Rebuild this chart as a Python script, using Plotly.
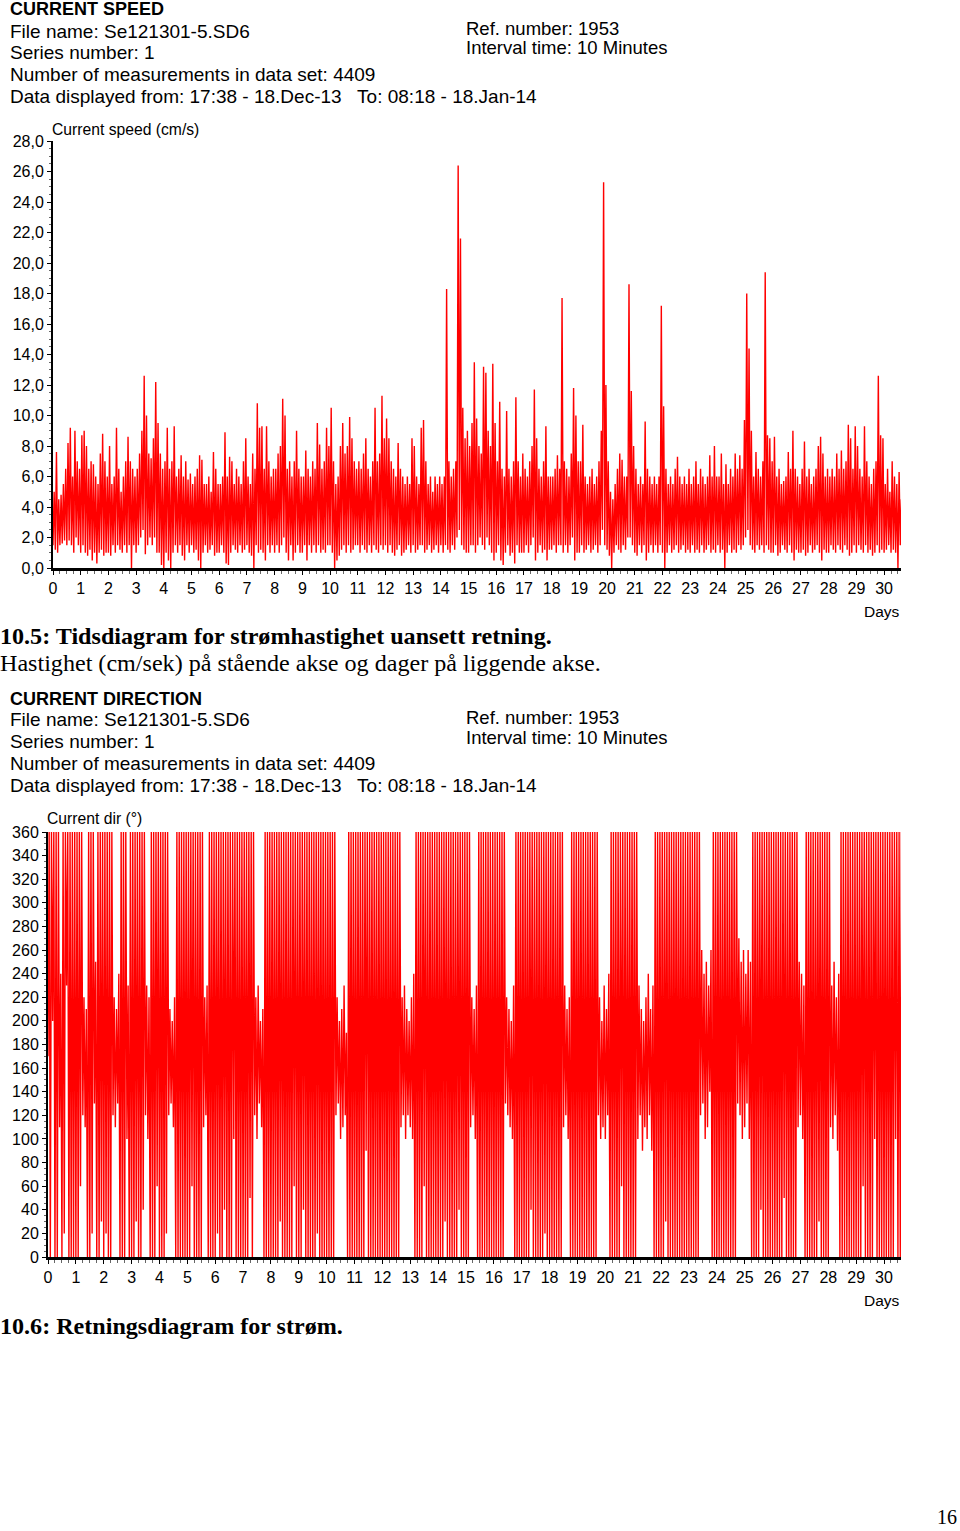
import plotly.graph_objects as go

W, H = 960, 1531

# ---------------- data ----------------
# per 2-hour bin: upper and lower extent of the trace (one row per day)
bin_hours = 2
speed_high = [
    5.0, 7.6, 4.5, 4.8, 5.5, 6.5, 8.2, 9.2, 6.0, 9.0, 7.0, 6.5,
    8.7, 9.0, 8.0, 6.5, 7.0, 6.8, 6.0, 5.5, 7.5, 8.8, 7.0, 6.0,
    8.0, 5.5, 6.0, 9.2, 6.5, 5.0, 6.0, 7.0, 8.6, 7.0, 6.5, 6.0,
    6.5, 7.5, 9.0, 12.6, 10.0, 7.5, 7.2, 8.5, 12.2, 9.5, 7.5, 6.5,
    7.0, 9.2, 6.5, 7.0, 9.3, 6.0, 6.5, 7.4, 6.0, 7.0, 5.8, 6.2,
    5.5, 6.0, 6.5, 7.4, 7.1, 5.5, 5.5, 6.0, 5.0, 7.6, 6.5, 5.5,
    5.5, 6.0, 8.9, 6.0, 7.3, 7.0, 5.5, 6.5, 6.0, 5.5, 7.0, 8.5,
    6.0, 5.5, 7.5, 6.5, 10.8, 9.2, 9.3, 6.5, 9.3, 7.0, 6.0, 6.5,
    6.5, 7.5, 8.0, 11.1, 10.0, 6.5, 7.0, 6.0, 7.0, 9.0, 6.5, 6.0,
    6.0, 7.7, 6.5, 6.0, 7.0, 6.5, 9.5, 8.1, 6.5, 7.0, 9.2, 8.0,
    10.5, 7.0, 5.5, 6.0, 8.0, 9.5, 7.5, 8.0, 9.9, 8.5, 7.0, 6.5,
    7.0, 6.5, 7.5, 8.5, 6.5, 6.0, 7.0, 10.5, 7.0, 7.5, 11.3, 8.5,
    9.8, 8.5, 7.0, 6.5, 6.0, 8.2, 6.5, 6.0, 5.5, 6.0, 5.5, 8.5,
    8.0, 6.0, 5.5, 9.2, 9.7, 7.0, 5.5, 6.0, 5.0, 6.0, 5.5, 6.0,
    5.5, 6.0, 18.3, 7.0, 6.0, 6.5, 7.0, 26.4, 21.6, 10.5, 8.5, 9.0,
    8.0, 9.5, 13.5, 9.8, 8.0, 7.5, 13.2, 12.8, 9.0, 8.0, 13.4, 9.5,
    7.0, 10.9, 6.5, 6.0, 10.3, 6.5, 6.0, 7.0, 11.2, 7.0, 6.0, 7.5,
    6.5, 6.0, 7.0, 8.0, 11.7, 8.5, 6.5, 6.0, 7.0, 9.3, 6.0, 6.0,
    6.0, 6.5, 7.4, 6.5, 17.7, 7.0, 6.5, 6.0, 7.5, 11.8, 10.0, 7.0,
    7.0, 9.4, 6.0, 5.5, 6.0, 6.5, 5.5, 6.0, 7.0, 9.0, 25.3, 12.0,
    7.0, 5.0, 4.5, 5.5, 6.5, 7.5, 7.1, 6.0, 6.0, 18.6, 11.6, 8.0,
    6.5, 5.5, 6.0, 5.5, 9.6, 6.5, 6.0, 5.5, 6.0, 5.5, 6.0, 17.2,
    10.6, 6.5, 5.5, 6.0, 5.5, 6.5, 7.3, 6.0, 5.5, 6.0, 5.5, 6.5,
    5.5, 6.0, 7.0, 5.5, 6.5, 6.0, 5.5, 6.0, 7.4, 6.0, 8.0, 6.0,
    6.0, 7.5, 5.5, 6.8, 5.5, 6.5, 6.0, 7.5, 6.5, 7.4, 6.5, 9.7,
    18.0, 14.4, 9.0, 6.0, 7.6, 6.5, 6.0, 7.0, 19.4, 8.7, 8.5, 7.0,
    8.6, 6.0, 6.5, 5.5, 5.7, 6.0, 7.6, 6.5, 9.0, 6.5, 6.0, 5.5,
    6.5, 8.3, 6.0, 6.5, 5.5, 6.0, 6.5, 8.0, 8.6, 7.5, 6.0, 6.5,
    6.0, 6.5, 6.0, 7.5, 6.5, 7.7, 6.5, 7.0, 9.4, 8.5, 6.5, 9.3,
    8.0, 6.5, 6.0, 9.3, 7.0, 6.0, 5.5, 6.5, 7.0, 12.6, 8.7, 8.5,
    5.5, 6.5, 5.0, 7.0, 6.0, 5.5, 6.3, 4.5,
]
speed_low = [
    1.5, 1.2, 1.0, 1.5, 1.6, 1.8, 1.5, 1.8, 1.5, 1.0, 2.0, 1.5,
    1.0, 1.5, 1.0, 0.8, 1.2, 0.5, 1.0, 0.3, 1.0, 1.2, 0.8, 1.0,
    1.0, 0.8, 1.5, 1.0, 1.5, 1.2, 1.0, 1.5, 1.0, 1.5, 0.0, 1.5,
    1.0, 1.5, 2.0, 2.5, 0.9, 1.5, 2.0, 1.5, 2.0, 1.0, 1.0, 0.2,
    0.0, 1.0, 0.5, 0.0, 1.0, 1.5, 1.0, 1.5, 0.8, 0.5, 1.5, 1.0,
    1.5, 1.0, 1.2, 0.5, 0.0, 1.0, 1.5, 1.0, 1.2, 1.5, 0.8, 1.0,
    1.0, 1.5, 1.0, 0.3, 0.2, 1.0, 1.5, 1.2, 1.0, 1.5, 1.0, 1.2,
    1.5, 1.0, 0.8, 0.0, 1.5, 1.0, 1.2, 1.0, 0.5, 1.5, 1.0, 1.5,
    1.0, 1.5, 1.0, 1.5, 2.0, 1.0, 0.5, 1.5, 0.5, 1.0, 1.5, 1.0,
    1.0, 1.5, 0.5, 1.5, 1.0, 1.5, 1.0, 1.5, 1.0, 1.2, 1.0, 1.5,
    1.5, 1.0, 0.0, 0.5, 0.8, 1.2, 1.5, 1.0, 1.5, 1.0, 1.2, 1.5,
    1.5, 1.0, 1.5, 1.2, 1.0, 1.5, 1.0, 1.5, 1.2, 1.0, 1.5, 1.2,
    1.5, 1.0, 1.5, 1.0, 0.8, 1.2, 1.5, 0.8, 1.0, 1.2, 1.5, 1.0,
    1.5, 1.0, 1.2, 1.5, 1.5, 1.0, 1.2, 1.5, 1.0, 1.2, 1.5, 1.0,
    1.5, 1.0, 1.5, 1.2, 1.0, 1.5, 1.2, 2.0, 2.5, 1.5, 1.2, 1.0,
    1.0, 1.5, 1.5, 1.0, 1.5, 2.0, 1.5, 1.2, 2.0, 1.5, 1.0, 0.5,
    1.0, 1.5, 0.5, 0.2, 1.0, 1.5, 0.8, 1.0, 0.3, 1.5, 1.0, 1.0,
    1.0, 1.5, 1.0, 1.5, 2.0, 0.5, 1.0, 1.5, 1.0, 1.2, 0.5, 1.2,
    1.2, 1.5, 1.0, 1.5, 1.5, 1.0, 1.5, 1.0, 1.5, 2.0, 0.5, 1.0,
    1.0, 1.5, 1.0, 1.2, 1.5, 1.0, 1.2, 1.5, 1.0, 1.5, 2.5, 1.5,
    1.2, 0.8, 0.0, 1.0, 1.5, 1.2, 1.0, 1.5, 1.2, 2.0, 2.0, 1.5,
    1.0, 0.8, 1.5, 1.0, 1.5, 0.5, 1.0, 1.5, 1.0, 1.5, 1.0, 1.5,
    1.0, 0.0, 1.0, 1.5, 1.0, 1.2, 1.5, 1.0, 1.2, 1.5, 1.0, 1.2,
    1.0, 1.5, 1.0, 1.2, 1.0, 1.5, 1.0, 1.2, 1.5, 1.0, 1.2, 1.0,
    1.5, 1.0, 1.2, 0.0, 1.0, 1.5, 1.0, 1.2, 1.0, 1.5, 1.2, 1.5,
    2.0, 2.5, 1.5, 1.2, 1.0, 1.5, 1.2, 1.5, 1.0, 1.5, 1.2, 1.0,
    1.0, 1.5, 0.8, 1.0, 1.5, 1.2, 1.0, 1.5, 1.0, 0.5, 1.2, 1.0,
    1.0, 1.2, 0.8, 1.0, 1.5, 1.0, 1.2, 1.5, 1.0, 0.5, 1.2, 1.0,
    1.0, 1.5, 1.2, 1.0, 1.5, 1.2, 1.0, 1.5, 1.2, 0.8, 1.0, 1.5,
    1.0, 1.5, 1.2, 1.0, 1.5, 1.0, 1.2, 0.8, 1.0, 1.5, 1.0, 1.2,
    1.0, 1.2, 1.5, 1.0, 1.2, 1.0, 0.0, 1.5,
]

direction_high = [
    360, 360, 360, 360, 360, 240, 360, 360, 360, 360, 360, 360,
    360, 360, 360, 220, 210, 360, 360, 360, 250, 360, 360, 360,
    360, 360, 360, 360, 220, 210, 240, 360, 360, 360, 230, 360,
    360, 360, 360, 360, 360, 360, 230, 220, 360, 360, 360, 360,
    360, 360, 360, 360, 210, 200, 220, 360, 360, 360, 360, 360,
    360, 360, 360, 360, 360, 360, 360, 220, 230, 360, 360, 360,
    360, 360, 360, 360, 360, 360, 360, 360, 360, 360, 360, 360,
    360, 360, 360, 360, 360, 220, 230, 200, 210, 360, 360, 360,
    360, 360, 360, 360, 360, 360, 360, 360, 360, 360, 360, 360,
    360, 360, 360, 360, 360, 360, 360, 360, 360, 360, 360, 360,
    360, 360, 360, 360, 220, 200, 210, 230, 190, 360, 360, 360,
    360, 360, 360, 360, 360, 360, 360, 360, 360, 360, 360, 360,
    360, 360, 360, 360, 360, 360, 360, 360, 220, 230, 210, 200,
    220, 240, 360, 360, 360, 360, 360, 360, 360, 360, 360, 360,
    360, 360, 360, 360, 360, 360, 360, 360, 360, 360, 360, 360,
    360, 360, 220, 210, 230, 360, 360, 360, 360, 360, 360, 360,
    360, 360, 360, 360, 360, 220, 210, 200, 230, 360, 360, 360,
    360, 360, 360, 360, 360, 360, 360, 360, 360, 360, 360, 360,
    360, 360, 360, 360, 360, 360, 230, 210, 220, 360, 360, 360,
    360, 360, 360, 360, 360, 360, 360, 360, 360, 220, 200, 230,
    210, 240, 360, 360, 360, 360, 360, 360, 360, 360, 360, 360,
    360, 360, 230, 210, 200, 220, 240, 210, 230, 360, 360, 360,
    360, 360, 360, 360, 360, 360, 360, 360, 360, 360, 360, 360,
    360, 360, 360, 360, 360, 260, 240, 250, 230, 260, 360, 360,
    360, 360, 360, 360, 360, 360, 360, 360, 360, 270, 250, 260,
    240, 260, 250, 360, 360, 360, 360, 360, 360, 360, 360, 360,
    360, 360, 360, 360, 360, 360, 360, 360, 360, 360, 360, 250,
    240, 230, 360, 360, 360, 360, 360, 360, 360, 360, 360, 360,
    360, 230, 250, 220, 240, 360, 360, 360, 360, 360, 360, 360,
    360, 360, 360, 360, 360, 360, 360, 360, 360, 360, 360, 360,
    360, 360, 360, 360, 360, 360, 360, 360,
]
direction_low = [
    170, 0, 200, 0, 0, 110, 0, 20, 230, 0, 0, 0,
    0, 0, 60, 120, 110, 0, 0, 20, 130, 0, 0, 30,
    0, 20, 0, 0, 120, 110, 130, 0, 0, 0, 100, 0,
    0, 0, 30, 0, 0, 40, 120, 100, 0, 0, 0, 60,
    0, 0, 0, 20, 120, 130, 110, 0, 0, 0, 0, 0,
    0, 0, 60, 0, 0, 0, 0, 110, 120, 0, 0, 0,
    0, 20, 0, 0, 40, 0, 0, 0, 100, 0, 0, 0,
    0, 0, 0, 50, 0, 120, 100, 130, 110, 0, 0, 0,
    0, 0, 0, 0, 30, 0, 0, 0, 0, 0, 60, 0,
    0, 0, 40, 0, 0, 0, 0, 0, 20, 0, 0, 0,
    0, 0, 0, 0, 120, 130, 100, 110, 120, 0, 0, 0,
    0, 0, 0, 0, 0, 90, 0, 0, 0, 0, 0, 0,
    0, 0, 0, 0, 0, 0, 0, 0, 110, 120, 100, 120,
    110, 100, 0, 0, 0, 0, 60, 0, 0, 0, 0, 0,
    0, 0, 0, 30, 0, 0, 0, 0, 0, 40, 0, 0,
    0, 0, 110, 120, 100, 0, 0, 0, 0, 0, 0, 0,
    0, 0, 0, 0, 0, 130, 120, 110, 100, 0, 0, 0,
    0, 0, 0, 0, 40, 0, 0, 0, 0, 0, 20, 0,
    0, 0, 0, 0, 0, 0, 110, 120, 100, 0, 0, 0,
    0, 0, 0, 0, 0, 0, 0, 0, 0, 120, 100, 110,
    100, 120, 0, 0, 0, 0, 0, 60, 0, 0, 0, 0,
    0, 0, 100, 120, 90, 110, 100, 120, 90, 0, 0, 0,
    0, 0, 30, 0, 0, 0, 0, 0, 0, 0, 0, 0,
    0, 0, 0, 0, 0, 120, 130, 100, 110, 140, 0, 0,
    0, 0, 0, 0, 0, 0, 0, 0, 0, 130, 120, 100,
    110, 130, 100, 0, 0, 0, 0, 40, 0, 0, 0, 0,
    0, 0, 0, 0, 0, 50, 0, 0, 0, 0, 0, 110,
    120, 100, 0, 0, 0, 0, 0, 0, 30, 0, 0, 0,
    0, 110, 100, 120, 90, 0, 0, 0, 0, 0, 0, 0,
    0, 0, 0, 60, 0, 0, 0, 0, 100, 0, 0, 0,
    0, 0, 0, 0, 0, 100, 0, 0,
]

day_ticks = list(range(0, 31))
days_total = 30.61  # 17:38 18.Dec-13 to 08:18 18.Jan-14

header_left = [
    "File name: Se121301-5.SD6",
    "Series number: 1",
    "Number of measurements in data set: 4409",
    "Data displayed from: 17:38 - 18.Dec-13   To: 08:18 - 18.Jan-14",
]
header_right = ["Ref. number: 1953", "Interval time: 10 Minutes"]

# ---------------- figure ----------------
def PX(x):
    return x / W


def PY(y):
    return 1 - y / H


def zigzag(low, high):
    xs, ys = [], []
    step = bin_hours / 24.0
    for i, (lo, hi) in enumerate(zip(low, high)):
        xs += [i * step, (i + 0.5) * step]
        ys += [lo, hi]
    return xs, ys


sx, sy = zigzag(speed_low, speed_high)
dx, dy = zigzag(direction_low, direction_high)

fig = go.Figure()
fig.add_trace(go.Scatter(x=sx, y=sy, mode="lines", line=dict(color="#ff0000", width=1.4),
                         xaxis="x", yaxis="y", hoverinfo="skip"))
fig.add_trace(go.Scatter(x=dx, y=dy, mode="lines", line=dict(color="#ff0000", width=1.4),
                         xaxis="x2", yaxis="y2", hoverinfo="skip"))

SANS = "Liberation Sans, Arial, sans-serif"
SERIF = "Liberation Serif, Times New Roman, serif"
tickfont = dict(family=SANS, size=16, color="black")


def xaxis_cfg(dom_left, anchor):
    return dict(domain=[PX(dom_left), PX(901)], range=[0, days_total], anchor=anchor,
                tickvals=day_ticks, ticks="outside", ticklen=4, tickwidth=1, tickcolor="black",
                showline=True, linecolor="black", linewidth=2.5, showgrid=False, zeroline=False,
                tickfont=tickfont, ticklabelstandoff=0, automargin=False,
                minor=dict(dtick=0.25, tick0=0, ticks="outside", ticklen=3, tickcolor="#666",
                           tickwidth=1, showgrid=False))


def yaxis_cfg(bottom, top, rng, dtick, mdtick, fmt, anchor):
    return dict(domain=[PY(bottom), PY(top)], range=rng, anchor=anchor,
                dtick=dtick, tick0=0, tickformat=fmt, ticks="outside", ticklen=4, tickwidth=1,
                tickcolor="black", showline=True, linecolor="black", linewidth=2,
                showgrid=False, zeroline=False, tickfont=tickfont, automargin=False,
                minor=dict(dtick=mdtick, tick0=0, ticks="outside", ticklen=2, tickcolor="#666",
                           tickwidth=1, showgrid=False))


fig.update_layout(
    width=W, height=H, autosize=False,
    margin=dict(l=0, r=0, t=0, b=0, pad=0, autoexpand=False),
    paper_bgcolor="white", plot_bgcolor="white", showlegend=False,
    separators=", ",
    xaxis=xaxis_cfg(53, "y"),
    yaxis=yaxis_cfg(568, 141, [0, 28], 2, 0.5, ".1f", "x"),
    xaxis2=xaxis_cfg(48, "y2"),
    yaxis2=yaxis_cfg(1257, 832, [0, 360], 20, 5, "d", "x2"),
)

ann = []


def text(x, y, s, size=18.6, family=SANS, weight="normal", xanchor="left"):
    ann.append(dict(x=PX(x), y=PY(y), xref="paper", yref="paper", text=s, showarrow=False,
                    xanchor=xanchor, yanchor="middle", borderpad=0, borderwidth=0,
                    font=dict(family=family, size=size, color="black", weight=weight)))


for top, title in ((0, "CURRENT SPEED"), (689, "CURRENT DIRECTION")):
    text(10, top + 9.5, title, size=18, weight="bold")
    for i, s in enumerate(header_left):
        text(10, top + 31 + i * 21.8, s, size=19.0)
    for i, s in enumerate(header_right):
        text(466, top + 28 + i * 20, s, size=18.5)

text(52, 129, "Current speed (cm/s)", size=15.7)
text(47, 818, "Current dir (°)", size=15.7)
text(900, 611, "Days", size=15.5, xanchor="right")
text(900, 1300, "Days", size=15.5, xanchor="right")
text(0, 636, "10.5: Tidsdiagram for strømhastighet uansett retning.", size=24.1, family=SERIF, weight="bold")
text(0, 663, "Hastighet (cm/sek) på stående akse og dager på liggende akse.", size=24.1, family=SERIF)
text(0, 1326, "10.6: Retningsdiagram for strøm.", size=24.1, family=SERIF, weight="bold")
text(957, 1517, "16", size=20, family=SERIF, xanchor="right")

fig.update_layout(annotations=ann)
fig.write_html(
    "out.html",
    config={"displayModeBar": False, "staticPlot": True},
    post_script="document.body.style.margin='0';",
)
